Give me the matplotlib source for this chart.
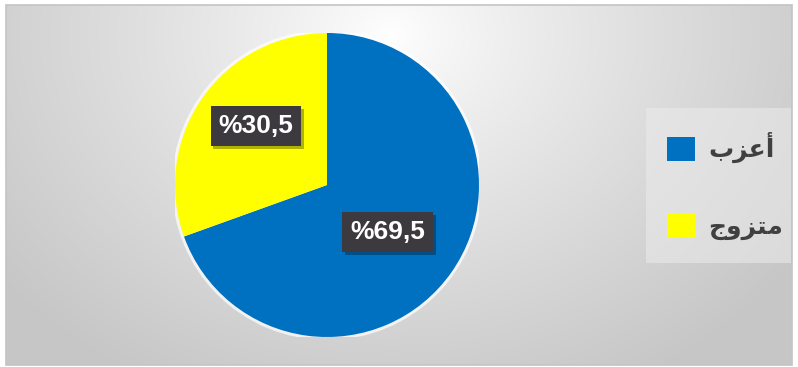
import numpy as np
import matplotlib
matplotlib.use("Agg")
import matplotlib.pyplot as plt
from matplotlib.patches import Rectangle, Circle
import matplotlib.patheffects as pe

# ---------------- data ----------------
categories = ["أعزب", "متزوج"]
values = [69.5, 30.5]
value_labels = ["%69,5", "%30,5"]
colors = ["#0070C0", "#FFFF00"]

# ---------------- minimal Arabic shaping (presentation forms) ----------------
FORMS = {  # iso, fin, ini, med  (None where the letter does not join left)
    "\u0623": ("\uFE83", "\uFE84", None, None),
    "\u0639": ("\uFEC9", "\uFECA", "\uFECB", "\uFECC"),
    "\u0632": ("\uFEAF", "\uFEB0", None, None),
    "\u0628": ("\uFE8F", "\uFE90", "\uFE91", "\uFE92"),
    "\u0645": ("\uFEE1", "\uFEE2", "\uFEE3", "\uFEE4"),
    "\u062A": ("\uFE95", "\uFE96", "\uFE97", "\uFE98"),
    "\u0648": ("\uFEED", "\uFEEE", None, None),
    "\u062C": ("\uFE9D", "\uFE9E", "\uFE9F", "\uFEA0"),
}


def shape(word):
    out = []
    for i, ch in enumerate(word):
        f = FORMS.get(ch)
        if f is None:
            out.append(ch)
            continue
        prev = word[i - 1] if i > 0 else None
        nxt = word[i + 1] if i + 1 < len(word) else None
        pj = prev is not None and prev in FORMS and FORMS[prev][2] is not None
        nj = nxt is not None and nxt in FORMS and f[2] is not None
        if pj and nj:
            out.append(f[3])
        elif pj:
            out.append(f[1])
        elif nj:
            out.append(f[2])
        else:
            out.append(f[0])
    return "".join(reversed(out))


W, H = 798, 367
fig = plt.figure(figsize=(W / 100, H / 100), dpi=100)
fig.patch.set_facecolor("white")

# ---------------- gradient background ----------------
bg = fig.add_axes([0, 0, 1, 1])
bg.set_xlim(0, W)
bg.set_ylim(H, 0)
bg.axis("off")
yy, xx = np.mgrid[0:H, 0:W]
d = np.sqrt(((xx - 390) / 1.0) ** 2 + ((yy - 30) / 0.8) ** 2)
tt = np.clip(d / 500.0, 0, 1)
g = 1.0 - 0.22 * tt ** 0.85
img = np.dstack([g, g, g])
bg.imshow(img, extent=(6, 792, 365, 5), interpolation="bilinear", zorder=0)
bg.add_patch(Rectangle((6, 5), 786, 360, fill=False, edgecolor="#c4c4c4", lw=1.2, zorder=1))
# legend backing box
bg.add_patch(Rectangle((646, 108), 145, 155, facecolor="#ececec", alpha=0.55,
                       edgecolor="none", zorder=2))

# ---------------- pie ----------------
cx, cy, r = 327, 185, 152
ax = fig.add_axes([(cx - r) / W, (H - cy - r) / H, 2 * r / W, 2 * r / H])
ax.add_patch(Circle((0, 0), 1.02, color="white", alpha=0.7, zorder=0, lw=0))
wedges, _ = ax.pie(values, colors=colors, startangle=90, counterclock=False,
                   radius=1.0, wedgeprops=dict(linewidth=0))
ax.set_xlim(-1, 1)
ax.set_ylim(-1, 1)
ax.set_aspect("auto")
ax.axis("off")

label_dist = [0.505, 0.607]
label_angle_shift = [-2.5, -4.6]
for w, lab, dist, dang in zip(wedges, value_labels, label_dist, label_angle_shift):
    ang = np.deg2rad((w.theta1 + w.theta2) / 2 + dang)
    x, y = dist * np.cos(ang), dist * np.sin(ang)
    t = ax.text(x, y, lab, ha="center", va="center", fontsize=19, fontweight="bold",
                family="Liberation Sans", color="white",
                bbox=dict(boxstyle="square,pad=0.3", facecolor="#3d3a3f", edgecolor="none"),
                zorder=5)
    t.get_bbox_patch().set_path_effects([
        pe.SimplePatchShadow(offset=(2, -2), shadow_rgbFace="black", alpha=0.3),
        pe.Normal()])

# ---------------- legend ----------------
leg = fig.legend(wedges, [shape(c) for c in categories], loc="center left",
                 bbox_to_anchor=(667 / W, 1 - 186 / H), bbox_transform=fig.transFigure,
                 borderaxespad=0, frameon=False, borderpad=0,
                 prop=dict(family=["DejaVu Sans"], weight="bold", size=18),
                 handlelength=1.1, handleheight=1.1, handletextpad=0.55,
                 labelspacing=2.0)
for txt in leg.get_texts():
    txt.set_color("#404040")

fig.savefig("out.png", dpi=100)
